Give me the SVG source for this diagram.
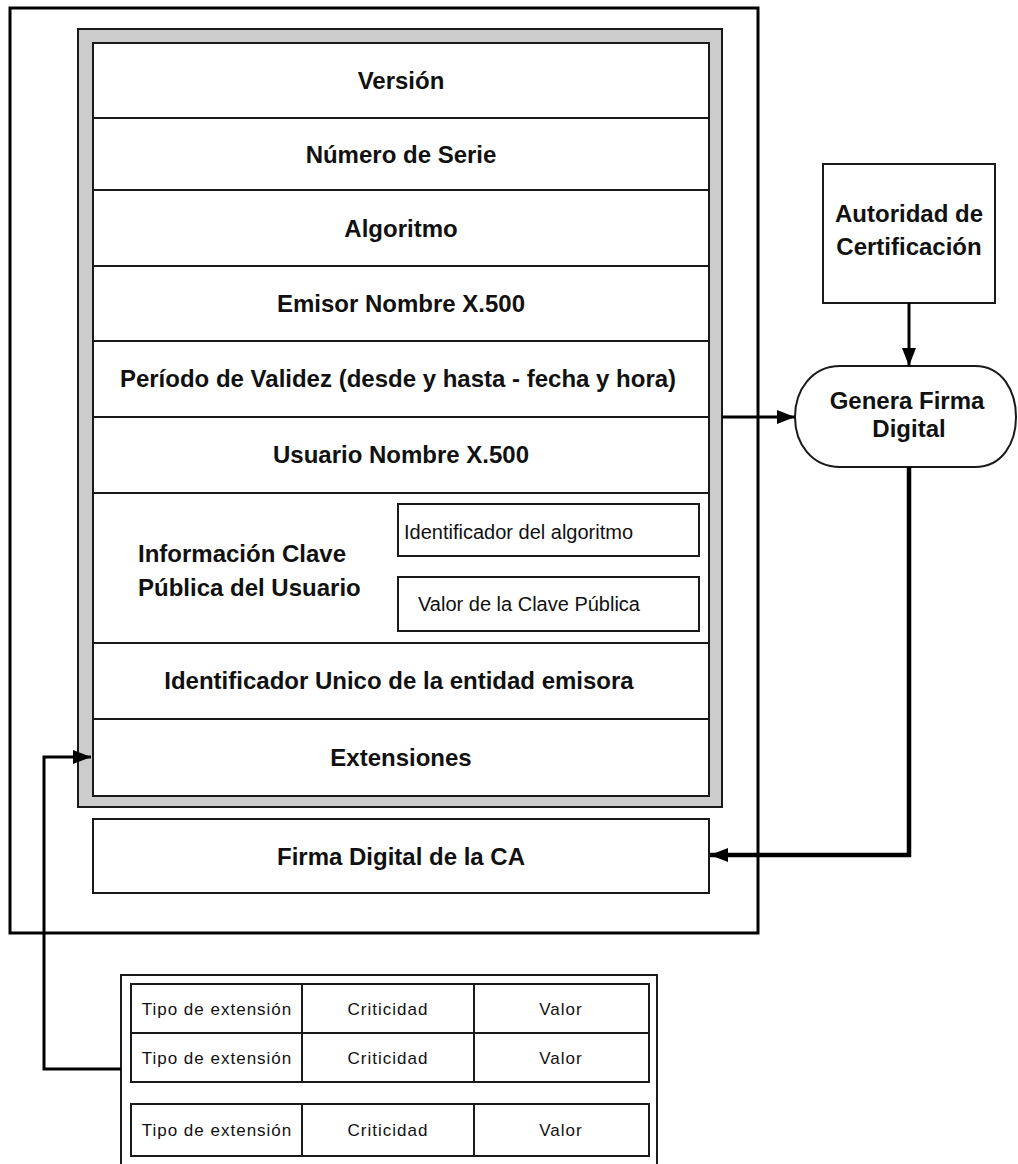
<svg xmlns="http://www.w3.org/2000/svg" width="1018" height="1164" viewBox="0 0 1018 1164">
<style>
.box{fill:#fff;stroke:#1a1a1a;stroke-width:2}
.frame{fill:#cccccc;stroke:#1a1a1a;stroke-width:2}
.row{stroke:#1a1a1a;stroke-width:2;fill:none}
.b{font-family:"Liberation Sans",Arial,sans-serif;font-weight:bold;font-size:24px;fill:#111;text-anchor:middle}
.l{text-anchor:start}
.r{font-family:"Liberation Sans",Arial,sans-serif;font-size:20px;fill:#111}
.t{font-family:"Liberation Sans",Arial,sans-serif;font-size:17px;letter-spacing:1px;fill:#111;text-anchor:middle}
.conn{fill:none;stroke:#000;stroke-linejoin:miter}
</style>
<defs>
<marker id="ah" markerUnits="userSpaceOnUse" markerWidth="18" markerHeight="14" refX="18" refY="7" orient="auto" viewBox="0 0 18 14">
<path d="M0,0 L18,7 L0,14 Z" fill="#000"/>
</marker>
</defs>
<rect width="1018" height="1164" fill="#fff"/>

<g id="certificado">
<rect x="10" y="8" width="748" height="925" fill="none" stroke="#000" stroke-width="3"/>
</g>

<g id="campos">
<rect class="frame" x="78" y="29" width="644" height="778"/>
<rect class="box" x="93" y="43" width="616" height="753"/>
<path class="row" d="M93,118H709 M93,190H709 M93,266H709 M93,341H709 M93,417H709 M93,493H709 M93,643H709 M93,719H709"/>
</g>

<g id="version"><text class="b" x="401" y="89">Versión</text></g>
<g id="numero-serie"><text class="b" x="401" y="163">Número de Serie</text></g>
<g id="algoritmo"><text class="b" x="401" y="237">Algoritmo</text></g>
<g id="emisor"><text class="b" x="401" y="312">Emisor Nombre X.500</text></g>
<g id="periodo"><text class="b" x="398" y="387">Período de Validez (desde y hasta - fecha y hora)</text></g>
<g id="usuario"><text class="b" x="401" y="463">Usuario Nombre X.500</text></g>
<g id="clave-publica">
<text class="b l" x="138" y="562">Información Clave</text>
<text class="b l" x="138" y="596">Pública del Usuario</text>
<rect class="box" x="398" y="504" width="301" height="52"/>
<text class="r" x="404" y="539">Identificador del algoritmo</text>
<rect class="box" x="398" y="577" width="301" height="54"/>
<text class="r" x="418" y="611">Valor de la Clave Pública</text>
</g>
<g id="identificador-unico"><text class="b" x="399" y="689">Identificador Unico de la entidad emisora</text></g>
<g id="extensiones"><text class="b" x="401" y="766">Extensiones</text></g>

<g id="firma-ca">
<rect class="box" x="93" y="819" width="616" height="74"/>
<text class="b" x="401" y="865">Firma Digital de la CA</text>
</g>

<g id="autoridad">
<rect class="box" x="823" y="164" width="172" height="139"/>
<text class="b" x="909" y="222">Autoridad de</text>
<text class="b" x="909" y="255">Certificación</text>
</g>

<g id="genera-firma">
<path class="box" d="M840,366 L975,366 C1003,366 1016,392 1016,417 C1016,442 1003,467 975,467 L840,467 C812,467 795,444 795,417 C795,390 812,366 840,366 Z"/>
<text class="b" x="907" y="409">Genera Firma</text>
<text class="b" x="909" y="437">Digital</text>
</g>

<g id="tabla-extensiones">
<rect class="box" x="121" y="975" width="536" height="200"/>
<rect class="box" x="131" y="984" width="518" height="98"/>
<path class="row" d="M131,1033H649 M302,984V1082 M474,984V1082"/>
<rect class="box" x="131" y="1104" width="518" height="52"/>
<path class="row" d="M302,1104V1156 M474,1104V1156"/>
<text class="t" x="217" y="1015">Tipo de extensión</text>
<text class="t" x="388" y="1015">Criticidad</text>
<text class="t" x="561" y="1015">Valor</text>
<text class="t" x="217" y="1064">Tipo de extensión</text>
<text class="t" x="388" y="1064">Criticidad</text>
<text class="t" x="561" y="1064">Valor</text>
<text class="t" x="217" y="1136">Tipo de extensión</text>
<text class="t" x="388" y="1136">Criticidad</text>
<text class="t" x="561" y="1136">Valor</text>
</g>

<g id="connectors">
<path class="conn" stroke-width="3" d="M909,303 V366" marker-end="url(#ah)"/>
<path class="conn" stroke-width="3" d="M722,417 H795" marker-end="url(#ah)"/>
<path class="conn" stroke-width="4.5" d="M909,467 V855 H710" marker-end="url(#ah)"/>
<path class="conn" stroke-width="3" d="M121,1069 H44 V757 H91" marker-end="url(#ah)"/>
</g>
</svg>
